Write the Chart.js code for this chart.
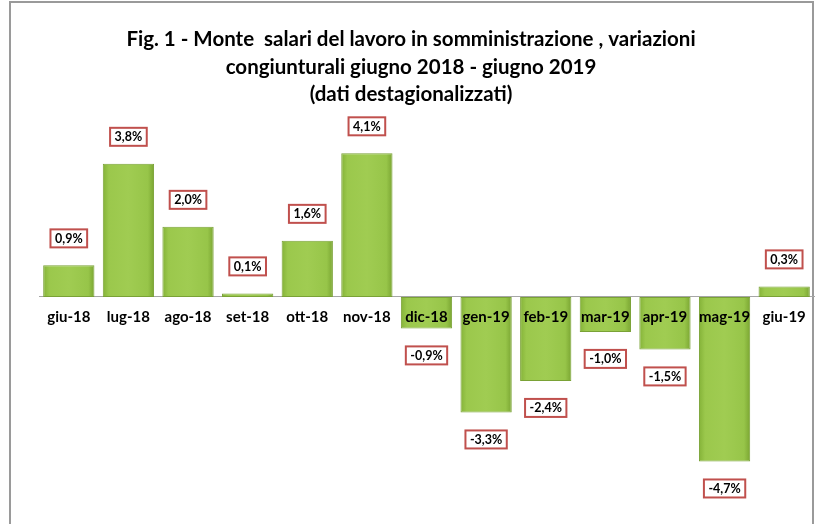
<!DOCTYPE html>
<html>
<head>
<meta charset="utf-8">
<script src="https://cdn.jsdelivr.net/npm/chart.js@4.4.1/dist/chart.umd.min.js"></script>
<style>
  html, body { margin: 0; padding: 0; background: #fff; overflow: hidden; }
  #frame { position: absolute; left: 9px; top: 1px; width: 801px; height: 600px; border: 2px solid #9a9a9a; box-sizing: content-box; }
  #wrap { position: absolute; left: 0; top: 0; width: 819px; height: 524px; }
</style>
</head>
<body>
<div id="frame"></div>
<div id="wrap"><canvas id="c" width="819" height="524"></canvas></div>
<script>
const categories = ['giu-18','lug-18','ago-18','set-18','ott-18','nov-18','dic-18','gen-19','feb-19','mar-19','apr-19','mag-19','giu-19'];
const values = [0.9, 3.8, 2.0, 0.1, 1.6, 4.1, -0.9, -3.3, -2.4, -1.0, -1.5, -4.7, 0.3];
const titleLines = ['Fig. 1 - Monte  salari del lavoro in somministrazione , variazioni', 'congiunturali giugno 2018 - giugno 2019', '(dati destagionalizzati)'];

const BAR_FRAC = 0.86;
function fmt(v) { return v.toFixed(1).replace('.', ',') + '%'; }

function barFill(c) {
  const chart = c.chart;
  if (!chart.chartArea || !chart.scales.x) return '#9DCB4D';
  const xs = chart.scales.x;
  const cx = xs.getPixelForValue(c.dataIndex);
  const w = (xs.width / categories.length) * BAR_FRAC;
  const g = chart.ctx.createLinearGradient(cx - w / 2, 0, cx + w / 2, 0);
  g.addColorStop(0, '#84B238');
  g.addColorStop(0.12, '#9BC84C');
  g.addColorStop(0.5, '#A0CC52');
  g.addColorStop(0.88, '#97C549');
  g.addColorStop(1, '#7AA532');
  return g;
}

const centerTitle = {
  id: 'centerTitle',
  afterLayout(chart) {
    const t = chart.titleBlock;
    if (t) { t.left = 0; t.right = 822; t.width = 822; }
  }
};

const labelPlugin = {
  id: 'valueBoxes',
  afterDatasetsDraw(chart) {
    const ctx = chart.ctx;
    const meta = chart.getDatasetMeta(0);
    ctx.save();
    ctx.font = 'bold 12.5px Lato, "Open Sans", sans-serif';
    ctx.textAlign = 'center';
    ctx.textBaseline = 'middle';
    meta.data.forEach((bar, i) => {
      const v = values[i];
      const txt = fmt(v);
      const off = 27;
      const y = v >= 0 ? bar.y - off : bar.y + off;
      const tw = ctx.measureText(txt).width;
      const bw = tw + 9, bh = 18;
      ctx.fillStyle = '#fff';
      ctx.fillRect(bar.x - bw / 2, y - bh / 2, bw, bh);
      ctx.lineWidth = 2;
      ctx.strokeStyle = '#C0504D';
      ctx.strokeRect(bar.x - bw / 2, y - bh / 2, bw, bh);
      ctx.fillStyle = '#000';
      ctx.fillText(txt, bar.x, y + 0.5);
    });
    ctx.restore();
  }
};

new Chart(document.getElementById('c'), {
  type: 'bar',
  data: {
    labels: categories,
    datasets: [{
      data: values,
      backgroundColor: barFill,
      borderColor: '#7AA236',
      borderWidth: 1,
      borderSkipped: false,
      categoryPercentage: 1,
      barPercentage: BAR_FRAC
    }]
  },
  options: {
    responsive: false,
    animation: false,
    devicePixelRatio: 1,
    layout: { padding: { left: 39, right: 5, top: 0, bottom: 17 } },
    plugins: {
      legend: { display: false },
      tooltip: { enabled: false },
      title: {
        display: true,
        text: titleLines,
        color: '#000',
        font: { family: 'Lato, "Open Sans", sans-serif', size: 20.5, weight: 'bold', lineHeight: 1.33 },
        padding: { top: 26, bottom: 14 }
      }
    },
    scales: {
      x: {
        position: { y: 0 },
        grid: { display: false, drawTicks: false },
        border: { display: true, color: '#A6A6A6', width: 1 },
        ticks: { z: 1, padding: 11, color: '#000', maxRotation: 0, autoSkip: false,
                 font: { family: 'Lato, "Open Sans", sans-serif', size: 15, weight: 'bold' } }
      },
      y: {
        display: false,
        min: -6,
        max: 5
      }
    }
  },
  plugins: [centerTitle, labelPlugin]
});
</script>
</body>
</html>
